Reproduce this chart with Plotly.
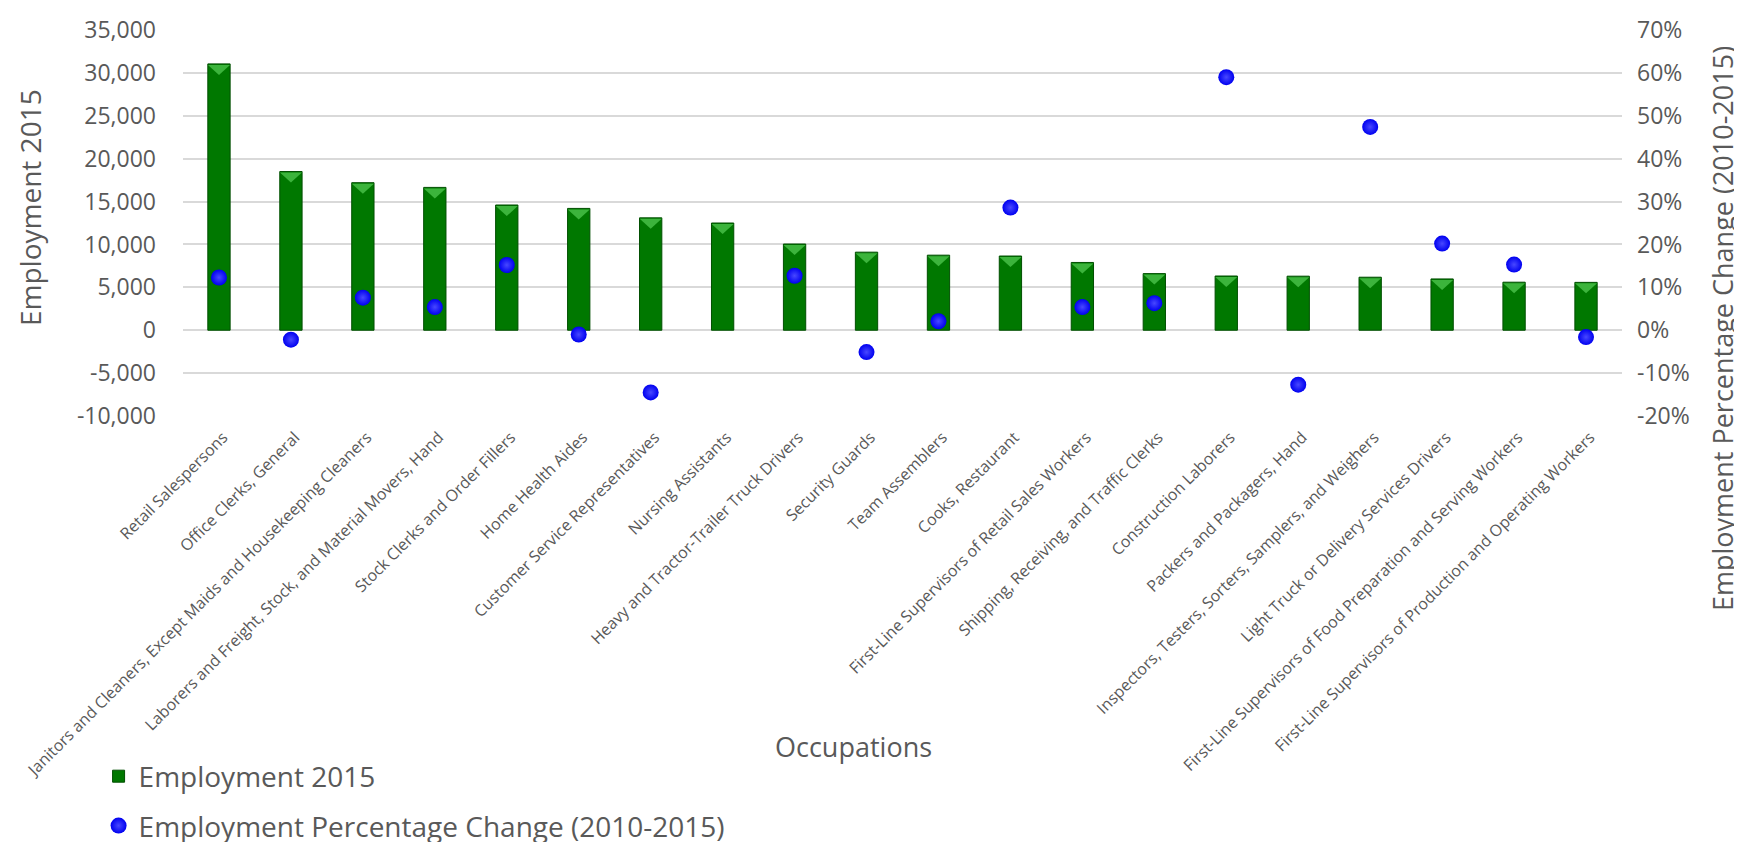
import plotly.graph_objects as go

occupations = [
    "Retail Salespersons",
    "Office Clerks, General",
    "Janitors and Cleaners, Except Maids and Housekeeping Cleaners",
    "Laborers and Freight, Stock, and Material Movers, Hand",
    "Stock Clerks and Order Fillers",
    "Home Health Aides",
    "Customer Service Representatives",
    "Nursing Assistants",
    "Heavy and Tractor-Trailer Truck Drivers",
    "Security Guards",
    "Team Assemblers",
    "Cooks, Restaurant",
    "First-Line Supervisors of Retail Sales Workers",
    "Shipping, Receiving, and Traffic Clerks",
    "Construction Laborers",
    "Packers and Packagers, Hand",
    "Inspectors, Testers, Sorters, Samplers, and Weighers",
    "Light Truck or Delivery Services Drivers",
    "First-Line Supervisors of Food Preparation and Serving Workers",
    "First-Line Supervisors of Production and Operating Workers",
]

employment_2015 = [31050, 18500, 17200, 16650, 14600, 14200, 13100, 12500, 10050, 9100,
                   8750, 8650, 7900, 6600, 6320, 6300, 6180, 5980, 5600, 5580]

pct_change = [0.123, -0.022, 0.076, 0.054, 0.152, -0.010, -0.145, None, 0.127, -0.051,
              0.021, 0.286, 0.054, 0.063, 0.590, -0.127, 0.474, 0.202, 0.153, -0.016]

y_ticks = list(range(-10000, 35001, 5000))
y_ticktext = [f"{v:,}" for v in y_ticks]
y2_ticks = [v / 100 for v in range(-20, 71, 10)]
y2_ticktext = [f"{round(v * 100)}%" for v in y2_ticks]

GRAY = "#595959"
GRID = "#d9d9d9"
FONT = "Open Sans"

fig = go.Figure()

fig.add_trace(go.Bar(
    x=occupations, y=employment_2015, name="Employment 2015",
    marker=dict(color="#007800", line=dict(color="#004f00", width=1)),
    yaxis="y", legendgroup="a",
))

fig.add_trace(go.Scatter(
    x=occupations, y=pct_change, name="Employment Percentage Change (2010-2015)",
    mode="markers", yaxis="y2", legendgroup="b",
    marker=dict(size=16, color="#0000f0", line=dict(width=0),
                gradient=dict(type="radial", color="#4848ff")),
))

shapes = []
for occ, val in zip(occupations, employment_2015):
    shapes.append(dict(
        type="path", xref="x", yref="y", xsizemode="pixel", ysizemode="pixel",
        xanchor=occ, yanchor=val,
        path="M -11,-1 L 11,-1 L 0,-11 Z",
        fillcolor="#3cb43c", line=dict(width=0), layer="above",
    ))

PW, PH, PL, PT = 1439, 386, 175, 22
title_font = dict(family=FONT, size=27, color=GRAY)
annotations = [
    dict(text="Employment 2015", xref="paper", yref="paper", x=(22 - PL) / PW,
         y=1 - (200 - PT) / PH, textangle=-90, showarrow=False,
         font=dict(family=FONT, size=28, color=GRAY),
         xanchor="center", yanchor="middle"),
    dict(text="Employment Percentage Change (2010-2015)", xref="paper", yref="paper",
         x=(1714 - PL) / PW, y=1 - (320 - PT) / PH, textangle=-90, showarrow=False,
         font=title_font, xanchor="center", yanchor="middle"),
    dict(text="Occupations", xref="paper", yref="paper", x=(845 - PL) / PW,
         y=1 - (738 - PT) / PH, showarrow=False, font=dict(family=FONT, size=27, color=GRAY),
         xanchor="center", yanchor="middle"),
]

fig.update_layout(
    width=1742, height=842,
    margin=dict(l=PL, r=1742 - PL - PW, t=PT, b=842 - PT - PH, autoexpand=False),
    paper_bgcolor="white", plot_bgcolor="white",
    font=dict(family=FONT, color=GRAY),
    bargap=0.69,
    shapes=shapes,
    annotations=annotations,
    showlegend=True,
    legend=dict(
        xref="container", yref="container", x=0.052, y=0.117,
        xanchor="left", yanchor="top", orientation="v",
        traceorder="grouped", tracegroupgap=10,
        font=dict(family=FONT, size=28, color=GRAY),
        bgcolor="rgba(0,0,0,0)",
    ),
    xaxis=dict(
        type="category", range=[-0.5, len(occupations) - 0.5],
        tickangle=-45, showgrid=False, showline=False, ticks="",
        tickfont=dict(family=FONT, size=16, color=GRAY),
        ticklabelstandoff=8, ticklabelshift=4,
        automargin=False,
    ),
    yaxis=dict(
        range=[-10000, 35000], tickvals=y_ticks, ticktext=y_ticktext, showgrid=True,
        gridcolor=GRID, gridwidth=2, zeroline=True, zerolinecolor=GRID, zerolinewidth=2,
        showline=False, ticks="", ticklabelstandoff=26,
        tickfont=dict(family=FONT, size=23, color=GRAY),
        automargin=False,
    ),
    yaxis2=dict(
        range=[-0.2, 0.7], tickvals=y2_ticks, ticktext=y2_ticktext, overlaying="y", side="right",
        showgrid=False, zeroline=False, showline=False, ticks="", ticklabelstandoff=14,
        tickfont=dict(family=FONT, size=23, color=GRAY),
        automargin=False,
    ),
)

fig.write_html("out.html")
